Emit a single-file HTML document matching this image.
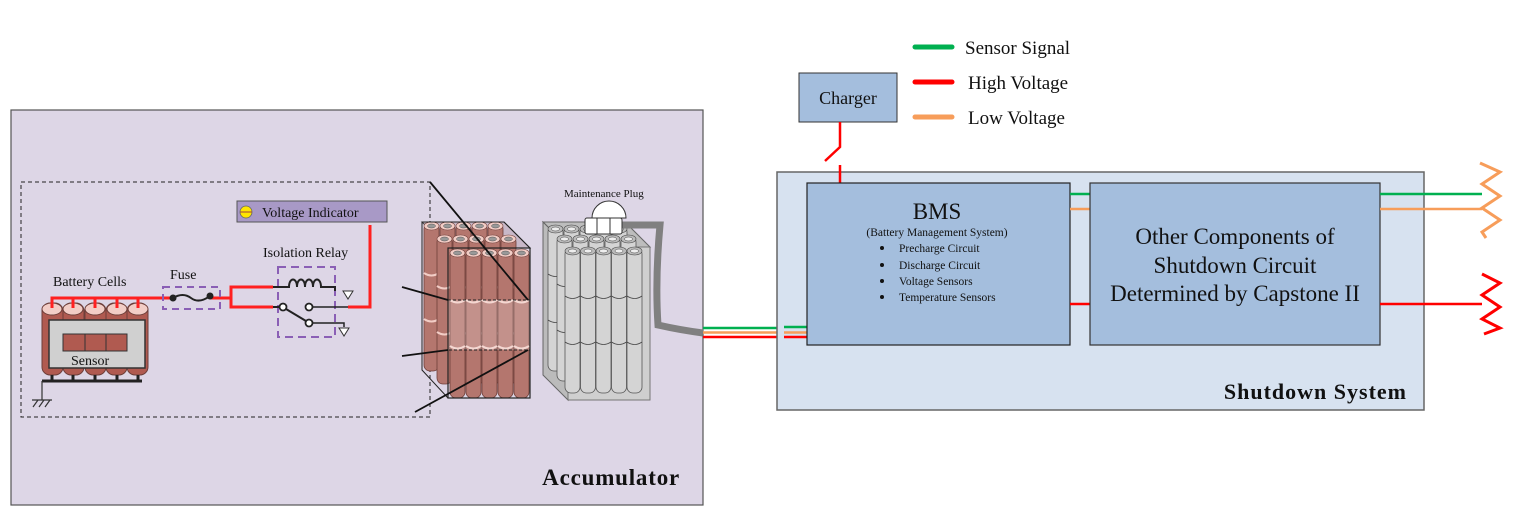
<!DOCTYPE html>
<html><head><meta charset="utf-8"><style>
body{margin:0;background:#fff}
svg{display:block}
text{font-family:"Liberation Serif",serif;fill:#111}
</style></head><body>
<svg width="1520" height="524" viewBox="0 0 1520 524" xmlns="http://www.w3.org/2000/svg">
<defs>
<g id="bc">
<rect x="0" y="0" width="15" height="148" rx="6" fill="#b4766e" stroke="#6e3f3a" stroke-width="0.8"/>
<ellipse cx="7.5" cy="3" rx="7.5" ry="4" fill="#f2cdc6" stroke="#6e3f3a" stroke-width="0.6"/>
<ellipse cx="7.5" cy="3" rx="4" ry="2" fill="#999" stroke="#555" stroke-width="0.5"/>
<path d="M0 50 q7.5 5 15 0 M0 96 q7.5 5 15 0" stroke="#f2cdc6" stroke-width="2" fill="none"/>
</g>
<g id="gc">
<rect x="0" y="0" width="15" height="145" rx="6" fill="#d4d4d4" stroke="#555" stroke-width="0.8"/>
<ellipse cx="7.5" cy="3" rx="7.5" ry="4" fill="#bbb" stroke="#444" stroke-width="0.6"/>
<ellipse cx="7.5" cy="3" rx="4" ry="2" fill="#eee" stroke="#444" stroke-width="0.5"/>
<path d="M0 48 q7.5 5 15 0 M0 94 q7.5 5 15 0" stroke="#444" stroke-width="0.8" fill="none"/>
</g>
</defs>

<!-- Legend -->
<line x1="915" y1="47" x2="952" y2="47" stroke="#00b050" stroke-width="5" stroke-linecap="round"/>
<text x="965" y="54" font-size="19">Sensor Signal</text>
<line x1="915" y1="82" x2="952" y2="82" stroke="#ff0000" stroke-width="5" stroke-linecap="round"/>
<text x="968" y="89" font-size="19">High Voltage</text>
<line x1="915" y1="117" x2="952" y2="117" stroke="#f79d5a" stroke-width="5" stroke-linecap="round"/>
<text x="968" y="124" font-size="19">Low Voltage</text>

<!-- Accumulator -->
<rect x="11" y="110" width="692" height="395" fill="#ddd6e6" stroke="#555" stroke-width="1.2"/>
<text x="680" y="485" font-size="23" font-weight="bold" text-anchor="end" letter-spacing="0.8">Accumulator</text>
<rect x="21" y="182" width="409" height="235" fill="none" stroke="#222" stroke-width="1" stroke-dasharray="4,3"/>

<!-- Voltage indicator -->
<rect x="237" y="201" width="150" height="21" fill="#a899c6" stroke="#555" stroke-width="1"/>
<circle cx="246" cy="212" r="6" fill="#ffe600" stroke="#666" stroke-width="0.8"/>
<line x1="240" y1="212" x2="252" y2="212" stroke="#a04040" stroke-width="1"/>
<text x="262" y="217" font-size="14">Voltage Indicator</text>
<text x="263" y="257" font-size="14">Isolation Relay</text>
<text x="170" y="279" font-size="14">Fuse</text>
<text x="53" y="286" font-size="14">Battery Cells</text>

<!-- red wiring -->
<polyline points="370,225 370,307 348,307" fill="none" stroke="#ff2020" stroke-width="3"/>
<polyline points="52,303 52,298 172,298" fill="none" stroke="#ff2020" stroke-width="3"/>
<line x1="210" y1="298" x2="231" y2="298" stroke="#ff2020" stroke-width="3"/>
<polyline points="273,287 231,287 231,307 273,307" fill="none" stroke="#ff2020" stroke-width="3"/>

<!-- fuse -->
<rect x="163" y="287" width="57" height="22" fill="none" stroke="#8a5fb5" stroke-width="2" stroke-dasharray="7,5"/>
<circle cx="173" cy="298" r="3.5" fill="#222"/><circle cx="210" cy="296" r="3.5" fill="#222"/>
<path d="M173 298 q10 -6 18 0 q8 6 19 -2" fill="none" stroke="#222" stroke-width="2"/>

<!-- relay -->
<rect x="278" y="267" width="57" height="70" fill="none" stroke="#8a5fb5" stroke-width="2" stroke-dasharray="8,5"/>
<path d="M273 287 h16 c0 -10 8 -10 8 0 c0 -10 8 -10 8 0 c0 -10 8 -10 8 0 c0 -10 8 -10 8 0 h14 v4" fill="none" stroke="#222" stroke-width="2"/>
<path d="M343 291 h10 l-5 8z" fill="#fff" stroke="#333" stroke-width="1"/>
<line x1="273" y1="307" x2="280" y2="307" stroke="#222" stroke-width="2"/>
<circle cx="283" cy="307" r="3.5" fill="#fff" stroke="#222" stroke-width="1.8"/>
<circle cx="309" cy="307" r="3.5" fill="#fff" stroke="#222" stroke-width="1.8"/>
<circle cx="309" cy="323" r="3.5" fill="#fff" stroke="#222" stroke-width="1.8"/>
<line x1="286" y1="309" x2="306" y2="321" stroke="#222" stroke-width="2"/>
<line x1="312" y1="307" x2="348" y2="307" stroke="#222" stroke-width="1.5"/>
<polyline points="312,323 344,323 344,327" fill="none" stroke="#222" stroke-width="1.5"/>
<path d="M339 328 h10 l-5 8z" fill="#fff" stroke="#333" stroke-width="1"/>

<!-- battery cells -->
<g stroke="#6e3f3a" stroke-width="1">
<rect x="42" y="303" width="21" height="72" rx="8" fill="#b05a50"/>
<rect x="63" y="303" width="21" height="72" rx="8" fill="#b05a50"/>
<rect x="85" y="303" width="21" height="72" rx="8" fill="#b05a50"/>
<rect x="106" y="303" width="21" height="72" rx="8" fill="#b05a50"/>
<rect x="127" y="303" width="21" height="72" rx="8" fill="#b05a50"/>
<ellipse cx="52" cy="309" rx="10" ry="6" fill="#f2cdc6"/><ellipse cx="73" cy="309" rx="10" ry="6" fill="#f2cdc6"/><ellipse cx="95" cy="309" rx="10" ry="6" fill="#f2cdc6"/><ellipse cx="117" cy="309" rx="10" ry="6" fill="#f2cdc6"/><ellipse cx="138" cy="309" rx="10" ry="6" fill="#f2cdc6"/>
</g>
<g fill="none" stroke="#ff2020" stroke-width="3"><path d="M73 298v10M95 298v10M117 298v10M138 298v10M52 298v10"/></g>
<rect x="49" y="320" width="96" height="48" fill="#d0d0d0" stroke="#333" stroke-width="1.5"/>
<rect x="63" y="334" width="64" height="17" fill="#b05a50" stroke="#333" stroke-width="1"/>
<path d="M85 334v17M106 334v17" stroke="#333"/>
<text x="71" y="365" font-size="14">Sensor</text>
<path d="M42 381 h100 M52 375v6M73 375v6M95 375v6M117 375v6M138 375v6" stroke="#222" stroke-width="3"/>
<path d="M42 381 v19 M32 400 h20 M33 407 l5 -7 M39 407 l5 -7 M45 407 l5 -7" stroke="#333" stroke-width="1.2" fill="none"/>

<!-- brown pack -->
<path d="M422 222 L448 248 L530 248 L504 222 Z" fill="#c8b8c8" stroke="#444" stroke-width="1"/>
<g transform="translate(424,223)"><use href="#bc"/><use href="#bc" x="16"/><use href="#bc" x="32"/><use href="#bc" x="48"/><use href="#bc" x="64"/></g>
<g transform="translate(437,236)"><use href="#bc"/><use href="#bc" x="16"/><use href="#bc" x="32"/><use href="#bc" x="48"/><use href="#bc" x="64"/></g>
<g transform="translate(450,250)"><use href="#bc"/><use href="#bc" x="16"/><use href="#bc" x="32"/><use href="#bc" x="48"/><use href="#bc" x="64"/></g>
<rect x="448" y="300" width="82" height="50" fill="#fff" opacity="0.2"/>
<rect x="448" y="300" width="82" height="50" fill="none" stroke="#222" stroke-dasharray="3,2"/>
<path d="M422 222 V370 L448 398 M422 222 H504 L530 248" fill="none" stroke="#222" stroke-width="1"/>
<rect x="448" y="248" width="82" height="150" fill="none" stroke="#222" stroke-width="1.2"/>
<path d="M430 182 L528 300 M402 287 L448 300 M402 356 L448 350 M415 412 L528 350" stroke="#111" stroke-width="1.8"/>

<!-- grey pack -->
<path d="M543 222 L568 247 L650 247 L625 222 Z" fill="#bdbdbd" stroke="#666"/>
<path d="M543 222 V375 L568 400 V247Z" fill="#bbb" stroke="#666"/>
<rect x="568" y="247" width="82" height="153" fill="#cfcfcf" stroke="#777"/>
<g transform="translate(548,226)"><use href="#gc"/><use href="#gc" x="16"/><use href="#gc" x="32"/><use href="#gc" x="48"/><use href="#gc" x="64"/></g>
<g transform="translate(557,236)"><use href="#gc"/><use href="#gc" x="16"/><use href="#gc" x="32"/><use href="#gc" x="48"/><use href="#gc" x="64"/></g>
<g transform="translate(565,248)"><use href="#gc"/><use href="#gc" x="15.5"/><use href="#gc" x="31"/><use href="#gc" x="46.5"/><use href="#gc" x="62"/></g>
<path d="M620 225 H660 Q655 280 658 325 Q680 330 703 333" fill="none" stroke="#808080" stroke-width="7"/>
<path d="M592 218 A17 17 0 0 1 626 218 Z" fill="#fff" stroke="#333"/>
<rect x="585" y="218" width="37" height="16" rx="2" fill="#fff" stroke="#333"/>
<path d="M597 218v16M610 218v16" stroke="#333"/>
<text x="564" y="197" font-size="11">Maintenance Plug</text>

<!-- connections accumulator to shutdown -->
<line x1="703" y1="328" x2="777" y2="328" stroke="#00b050" stroke-width="2.5"/>
<line x1="703" y1="332.5" x2="777" y2="332.5" stroke="#f79d5a" stroke-width="2.5"/>
<line x1="703" y1="337" x2="777" y2="337" stroke="#ff0000" stroke-width="2.5"/>

<!-- Shutdown system -->
<rect x="777" y="172" width="647" height="238" fill="#d7e2f0" stroke="#666" stroke-width="1.5"/>
<text x="1407" y="399" font-size="22" font-weight="bold" text-anchor="end" letter-spacing="1">Shutdown System</text>
<line x1="784" y1="327" x2="807" y2="327" stroke="#00b050" stroke-width="2.5"/>
<line x1="784" y1="332.5" x2="807" y2="332.5" stroke="#f79d5a" stroke-width="2.5"/>
<line x1="784" y1="337" x2="807" y2="337" stroke="#ff0000" stroke-width="2.5"/>

<!-- Charger -->
<rect x="799" y="73" width="98" height="49" fill="#a4bedd" stroke="#333" stroke-width="1"/>
<text x="848" y="104" font-size="18" text-anchor="middle">Charger</text>
<polyline points="840,122 840,147 825,161" fill="none" stroke="#ff0000" stroke-width="2.5"/>
<line x1="840" y1="165" x2="840" y2="183" stroke="#ff0000" stroke-width="2.5"/>

<!-- BMS -->
<rect x="807" y="183" width="263" height="162" fill="#a4bedd" stroke="#222" stroke-width="1.2"/>
<text x="937" y="219" font-size="23" text-anchor="middle">BMS</text>
<text x="937" y="236" font-size="11.5" text-anchor="middle">(Battery Management System)</text>
<g font-size="11.5">
<circle cx="882" cy="248" r="2" fill="#111"/><text x="899" y="252">Precharge Circuit</text>
<circle cx="882" cy="265" r="2" fill="#111"/><text x="899" y="269">Discharge Circuit</text>
<circle cx="882" cy="281" r="2" fill="#111"/><text x="899" y="285">Voltage Sensors</text>
<circle cx="882" cy="297" r="2" fill="#111"/><text x="899" y="301">Temperature Sensors</text>
</g>

<line x1="1070" y1="194" x2="1090" y2="194" stroke="#00b050" stroke-width="2.5"/>
<line x1="1070" y1="209" x2="1090" y2="209" stroke="#f79d5a" stroke-width="2.5"/>
<line x1="1070" y1="304" x2="1090" y2="304" stroke="#ff0000" stroke-width="2.5"/>

<!-- Other -->
<rect x="1090" y="183" width="290" height="162" fill="#a4bedd" stroke="#333" stroke-width="1.2"/>
<g font-size="23" text-anchor="middle">
<text x="1235" y="244">Other Components of</text>
<text x="1235" y="273">Shutdown Circuit</text>
<text x="1235" y="301">Determined by Capstone II</text>
</g>

<line x1="1380" y1="194" x2="1482" y2="194" stroke="#00b050" stroke-width="2.5"/>
<line x1="1380" y1="209" x2="1482" y2="209" stroke="#f79d5a" stroke-width="2.5"/>
<line x1="1380" y1="304" x2="1482" y2="304" stroke="#ff0000" stroke-width="2.5"/>
<polyline points="1480,163 1500,172 1482,184 1500,196 1482,208 1500,220 1482,232 1486,238" fill="none" stroke="#f79d5a" stroke-width="3"/>
<polyline points="1482,274 1500,283 1482,295 1500,307 1482,319 1500,328 1484,334" fill="none" stroke="#ff0000" stroke-width="3"/>
</svg>
</body></html>
